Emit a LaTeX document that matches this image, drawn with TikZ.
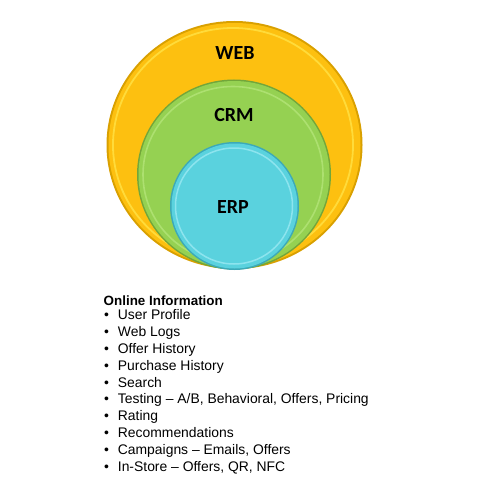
\documentclass[tikz,border=0pt]{standalone}
\usepackage{fontspec}
\setmainfont{Liberation Sans}
\newfontfamily\calib{Carlito}
\definecolor{webY}{HTML}{FDC010}
\definecolor{webRim}{HTML}{FFDB3A}
\definecolor{webEdge}{HTML}{D9A000}
\definecolor{crmG}{HTML}{95D152}
\definecolor{crmRim}{HTML}{ADE070}
\definecolor{crmEdge}{HTML}{72A63A}
\definecolor{erpB}{HTML}{5AD2DE}
\definecolor{erpRim}{HTML}{8DE4EE}
\definecolor{erpEdge}{HTML}{3CA9B8}
\tikzset{
  ringlabel/.style={font=\calib\bfseries\fontsize{20}{24}\selectfont, text=black, inner sep=0pt},
  listtext/.style={font=\fontsize{13.9}{16}\selectfont, anchor=base west, inner sep=0pt},
  bul/.style={font=\fontsize{13.9}{16}\selectfont, anchor=base, inner sep=0pt}
}
\begin{document}
\begin{tikzpicture}[x=1pt,y=-1pt]
\useasboundingbox (0,0) rectangle (480,500);
\fill[white] (0,0) rectangle (480,500);
% WEB
\fill[webEdge] (234.5,145) ellipse [x radius=128, y radius=124];
\fill[webY] (234.5,145) ellipse [x radius=126, y radius=122];
\draw[webRim, line width=1.8pt] (233,145) ellipse [x radius=120, y radius=117];
% CRM
\fill[crmEdge] (234,174.5) ellipse [x radius=97, y radius=95];
\fill[crmG] (234,174.5) ellipse [x radius=95.5, y radius=93.5];
\draw[crmRim, line width=1.6pt] (233,174.5) ellipse [x radius=90, y radius=88];
% ERP
\fill[erpEdge] (234.5,206) ellipse [x radius=64.5, y radius=64];
\fill[erpB] (234.5,206) ellipse [x radius=63, y radius=62.5];
\draw[erpRim, line width=1.5pt] (234,206) ellipse [x radius=58.5, y radius=58];
\node[ringlabel] (web) at (235,53) {WEB};
\node[ringlabel] (crm) at (234,115) {CRM};
\node[ringlabel] (erp) at (233,207) {ERP};
% list
\node[listtext, font=\bfseries\fontsize{13.4}{16}\selectfont] (title) at (103.5,305) {Online Information};
\foreach \t [count=\i] in {User Profile, Web Logs, Offer History, Purchase History, Search, {Testing – A/B, Behavioral, Offers, Pricing}, Rating, Recommendations, {Campaigns – Emails, Offers}, {In-Store – Offers, QR, NFC}}{
  \node[bul] (b\i) at (106.5,{302.4+16.93*\i}) {•};
  \node[listtext] (l\i) at (117.7,{302.4+16.93*\i}) {\t};
}
\end{tikzpicture}
\end{document}
